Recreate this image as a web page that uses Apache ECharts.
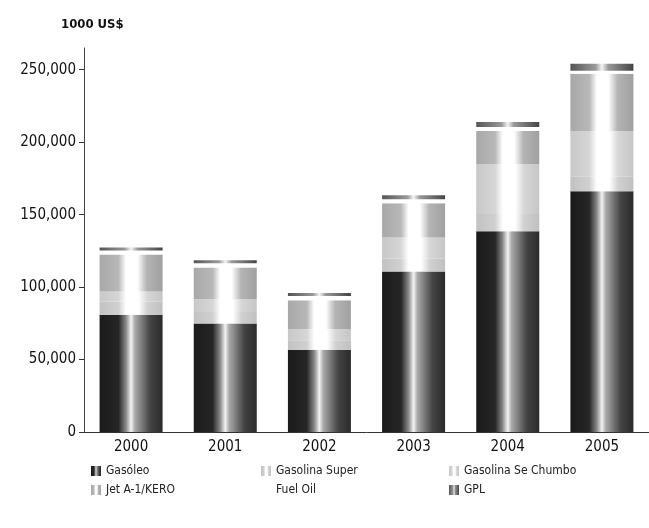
<!DOCTYPE html>
<html>
<head>
<meta charset="utf-8">
<script src="https://cdn.jsdelivr.net/npm/echarts@6/dist/echarts.min.js"></script>
<style>
  html, body { margin: 0; padding: 0; background: #fff; }
  #chart { width: 649px; height: 528px; }
</style>
</head>
<body>
<div id="chart"></div>
<script>
// data (1000 US$)
const years = ['2000', '2001', '2002', '2003', '2004', '2005'];
const gasoleo = [81000, 74800, 56800, 110800, 138500, 166200];
const gasolinaSuper = [9000, 8000, 6500, 9000, 12000, 10000];
const gasolinaSemChumbo = [7000, 8800, 7700, 14500, 34400, 31500];
const jetKero = [25500, 22000, 20000, 23500, 22800, 39500];
const fuelOil = [2800, 2800, 2800, 2800, 2800, 2100];
const gpl = [2100, 2100, 2100, 2800, 3500, 4800];

const FONT = "'DejaVu Sans Condensed', 'DejaVu Sans', sans-serif";

// cylinder-like shading: darker edges, white highlight in the middle
function cyl(stops) {
  return new echarts.graphic.LinearGradient(0, 0, 1, 0,
    stops.map(s => ({ offset: s[0], color: s[1] })));
}

const fills = {
  'Gasóleo': cyl([[0, '#1a1a1a'], [0.3, '#262626'], [0.42, '#8a8a8a'], [0.5, '#f4f4f4'], [0.56, '#aaa'], [0.8, '#444'], [1, '#2a2a2a']]),
  'Gasolina Super': cyl([[0, '#c2c2c2'], [0.3, '#d0d0d0'], [0.42, '#fff'], [0.62, '#fff'], [0.76, '#d0d0d0'], [1, '#c0c0c0']]),
  'Gasolina Se Chumbo': cyl([[0, '#c8c8c8'], [0.3, '#d6d6d6'], [0.42, '#fff'], [0.62, '#fff'], [0.76, '#d6d6d6'], [1, '#c6c6c6']]),
  'Jet A-1/KERO': cyl([[0, '#a8a8a8'], [0.3, '#b8b8b8'], [0.42, '#fff'], [0.6, '#fff'], [0.75, '#b4b4b4'], [1, '#a0a0a0']]),
  'Fuel Oil': '#ffffff',
  'GPL': cyl([[0, '#555'], [0.4, '#999'], [0.5, '#f4f4f4'], [0.6, '#999'], [1, '#444']])
};

const seriesData = [
  ['Gasóleo', gasoleo],
  ['Gasolina Super', gasolinaSuper],
  ['Gasolina Se Chumbo', gasolinaSemChumbo],
  ['Jet A-1/KERO', jetKero],
  ['Fuel Oil', fuelOil],
  ['GPL', gpl]
];

// legend laid out in two rows of three columns
const legendPos = {
  'Gasóleo': [86, 460],
  'Gasolina Super': [256, 460],
  'Gasolina Se Chumbo': [444, 460],
  'Jet A-1/KERO': [86, 479],
  'Fuel Oil': [256, 479],
  'GPL': [444, 479]
};

const chart = echarts.init(document.getElementById('chart'));

chart.setOption({
  animation: false,
  title: {
    text: '1000 US$',
    left: 56,
    top: 13,
    textStyle: { fontFamily: FONT, fontSize: 13, fontWeight: 'bold', color: '#111' }
  },
  legend: seriesData.map(([name]) => ({
    data: [name],
    left: legendPos[name][0],
    top: legendPos[name][1],
    icon: 'rect',
    itemWidth: 10,
    itemHeight: 10,
    itemGap: 0,
    textStyle: { fontFamily: FONT, fontSize: 12, color: '#222' }
  })),
  grid: { left: 84, right: -6, top: 48, bottom: 96 },
  xAxis: {
    type: 'category',
    data: years,
    axisLine: { lineStyle: { color: '#333', width: 1 } },
    axisTick: { alignWithLabel: false, length: 5, lineStyle: { color: '#333' } },
    axisLabel: { fontFamily: FONT, fontSize: 15, color: '#111', margin: 8 }
  },
  yAxis: {
    type: 'value',
    min: 0,
    max: 265000,
    interval: 50000,
    axisLine: { show: true, lineStyle: { color: '#444', width: 1 } },
    axisTick: { show: true, length: 5, lineStyle: { color: '#333' } },
    splitLine: { show: false },
    axisLabel: {
      fontFamily: FONT, fontSize: 15, color: '#111', margin: 8,
      showMaxLabel: false,
      formatter: v => v.toLocaleString('en-US')
    }
  },
  series: seriesData.map(([name, vals]) => ({
    name: name,
    type: 'bar',
    stack: 'total',
    barWidth: 63,
    data: vals,
    itemStyle: { color: fills[name] }
  }))
});
</script>
</body>
</html>
